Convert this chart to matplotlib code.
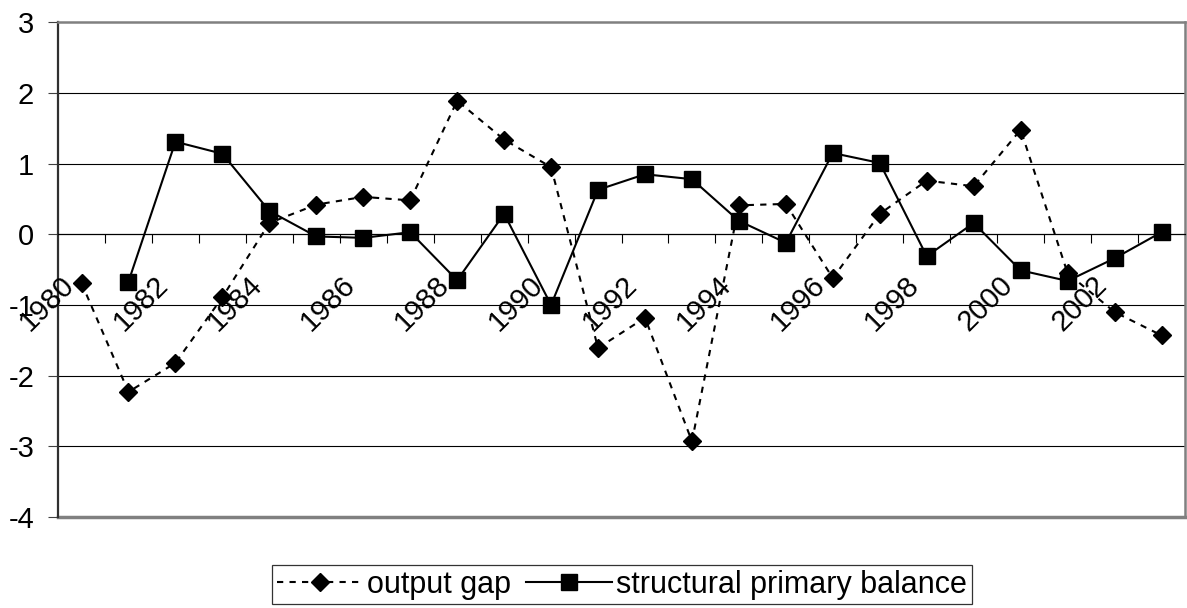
import numpy as np
import matplotlib
matplotlib.use("Agg")
import matplotlib.pyplot as plt

plt.rcParams['font.family'] = ['Liberation Sans', 'DejaVu Sans']
plt.rcParams['axes.unicode_minus'] = False

# data
years = list(range(1980, 2004))
output_gap = [-0.69, -2.23, -1.82, -0.89, 0.16, 0.42, 0.53, 0.48, 1.89, 1.34,
              0.95, -1.61, -1.18, -2.93, 0.41, 0.43, -0.62, 0.29, 0.76, 0.68,
              1.48, -0.55, -1.10, -1.43]
structural_balance = [np.nan, -0.67, 1.31, 1.14, 0.33, -0.03, -0.05, 0.03, -0.65,
                      0.29, -1.00, 0.63, 0.85, 0.78, 0.19, -0.12, 1.15, 1.01,
                      -0.31, 0.16, -0.51, -0.66, -0.34, 0.03]
y_ticks = [3, 2, 1, 0, -1, -2, -3, -4]

FS = 21

fig = plt.figure(figsize=(11.87, 6.08), dpi=100)
ax = fig.add_axes([0.0489, 0.1497, 0.9494, 0.8136])

x = np.arange(len(years))

ax.plot(x, output_gap, color='black', lw=1.5, ls=(0, (3, 3)),
        marker='D', markersize=9, label='output gap', zorder=3)
ax.plot(x, structural_balance, color='black', lw=1.5, ls='-',
        marker='s', markersize=12, label='structural primary balance', zorder=4)

ax.set_xlim(-0.5, len(years) - 0.5)
ax.set_ylim(-4, 3)

# horizontal gridlines
for v in y_ticks:
    if v in (3, -4, 0):
        continue
    ax.axhline(v, color='black', lw=0.8, zorder=1)

# plot-area border
for side in ('top', 'right'):
    ax.spines[side].set_color('#808080')
    ax.spines[side].set_linewidth(1.8)
ax.spines['left'].set_color('#303030')
ax.spines['left'].set_linewidth(1.6)

# category axis crosses at zero; draw the lower border separately
ax.spines['bottom'].set_position(('data', 0))
ax.spines['bottom'].set_color('black')
ax.spines['bottom'].set_linewidth(0.9)
ax.axhline(-4, color='#808080', lw=2.5, zorder=1, clip_on=False)

ax.set_yticks(y_ticks)
ax.set_yticklabels([str(v) for v in y_ticks], fontsize=FS)
ax.tick_params(axis='y', length=7.2, width=0.8, pad=10, color='#404040')

ax.set_xticks(np.arange(0.5, len(years) - 1, 1.0))
ax.set_xticklabels([])
ax.tick_params(axis='x', direction='out', length=6.5, width=0.8, color='black')

for i, yr in enumerate(years):
    if yr % 2 == 0:
        ax.annotate(str(yr), xy=(i, 0), xytext=(-12, -46),
                    textcoords='offset pixels', rotation=45,
                    rotation_mode='anchor', ha='right', va='center',
                    fontsize=FS, annotation_clip=False)

leg = fig.legend(loc='center', bbox_to_anchor=(0.524, 0.038), ncol=2,
                 fontsize=22, frameon=True, fancybox=False, shadow=False,
                 handlelength=2.8, handletextpad=0.15, columnspacing=0.5,
                 borderpad=0.15, borderaxespad=0)
leg.get_frame().set_edgecolor('black')
leg.get_frame().set_linewidth(0.9)

fig.savefig('out.png', dpi=100, facecolor='white')
